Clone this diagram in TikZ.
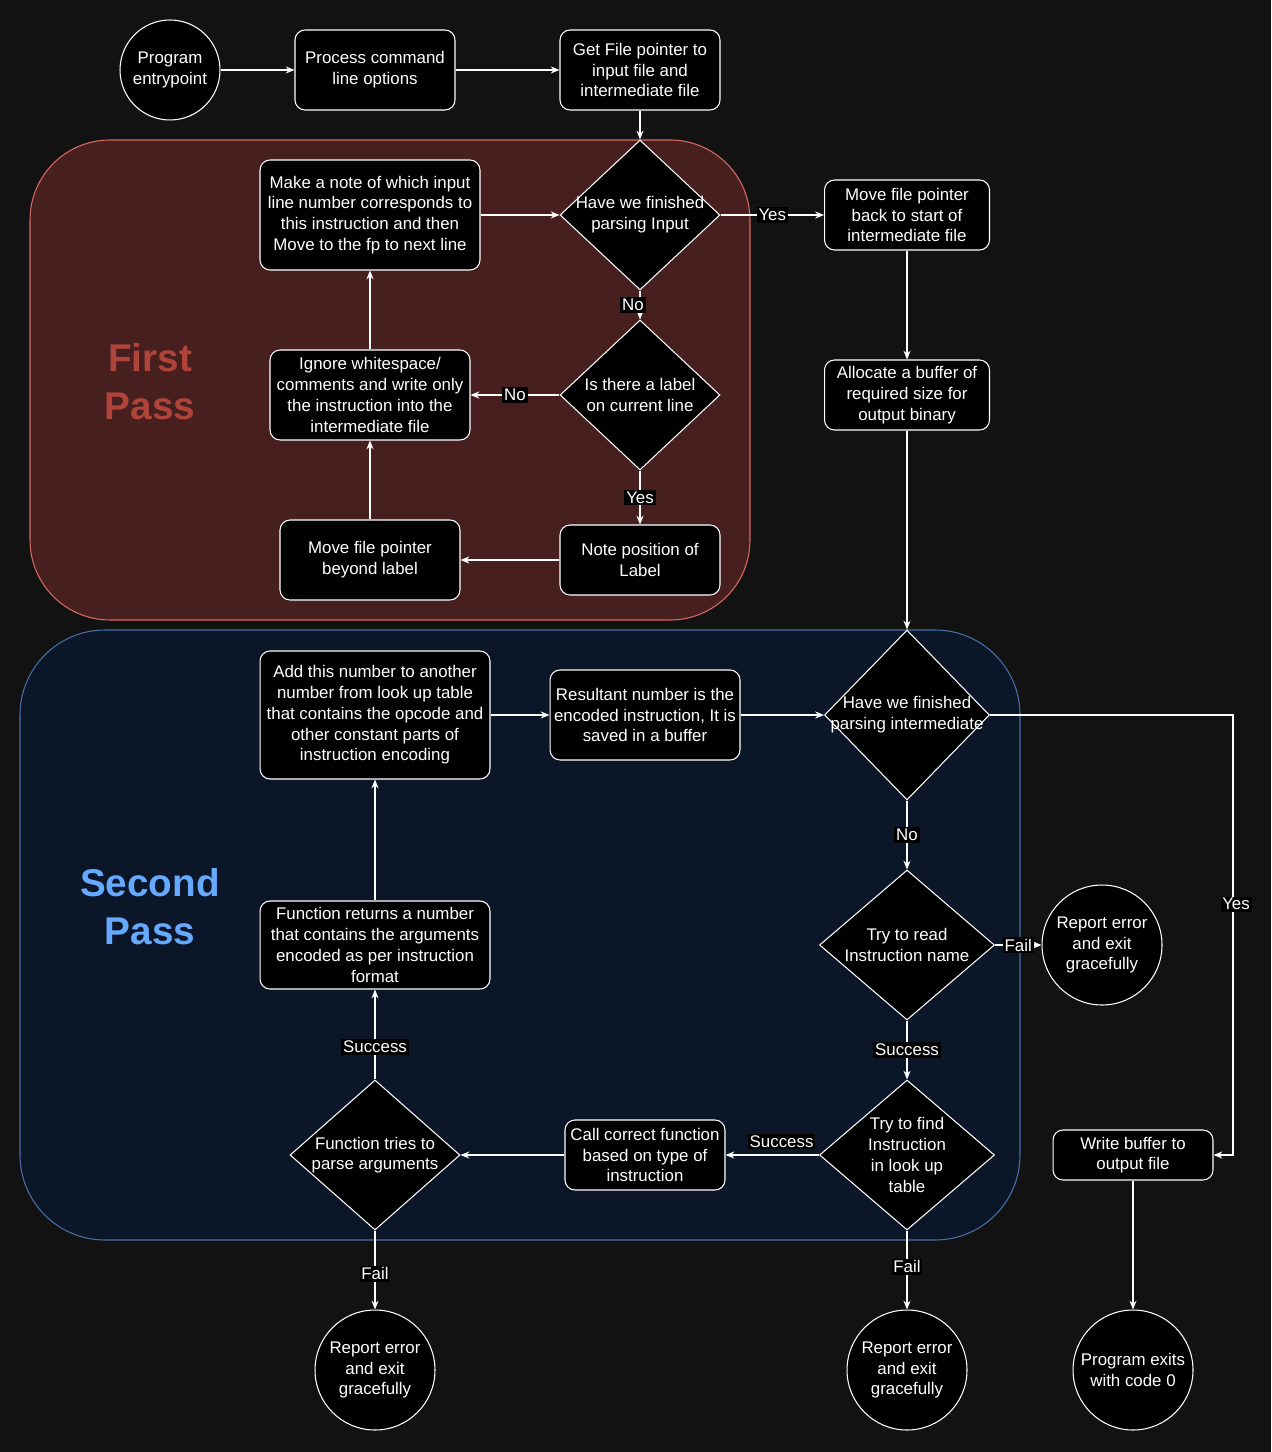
\documentclass[tikz,border=0pt]{standalone}
\usepackage{fontspec}
\setmainfont{Liberation Sans}
\usetikzlibrary{arrows.meta,shapes.geometric}
\definecolor{bgcol}{HTML}{121212}
\definecolor{firstfill}{HTML}{481F1F}
\definecolor{firstline}{HTML}{D86A64}
\definecolor{firsttext}{HTML}{B0443A}
\definecolor{secondfill}{HTML}{0B1729}
\definecolor{secondline}{HTML}{4A6FA5}
\definecolor{secondtext}{HTML}{66AAFF}
\newcommand{\boxfont}{\fontsize{9.6}{11.8}\selectfont}
\newcommand{\passfont}{\fontsize{22}{27.3}\selectfont\bfseries}
\tikzset{
	box/.style={draw=white, fill=black, text=white, rounded corners=0.2cm, align=center, font=\boxfont, inner sep=1pt, line width=0.6pt},
	term/.style={circle, draw=white, fill=black, text=white, align=center, font=\boxfont, inner sep=0pt, line width=0.6pt},
	decision/.style={diamond, draw=white, fill=black, inner sep=0pt, line width=0.6pt},
	dtext/.style={text=white, align=center, font=\boxfont, inner sep=0pt},
	lbl/.style={fill=black, text=white, font=\boxfont, inner sep=1pt},
	arr/.style={draw=white, line width=0.6pt, -{Stealth[length=5pt,width=4pt]}}
}

\begin{document}
\begin{tikzpicture}[x=0.02cm, y=-0.02cm]
		%%%%% START %%%%%
		
		\useasboundingbox (0, 0) rectangle (1271, 1452);
		\fill[bgcol] (0, 0) rectangle (1271, 1452);
		
		\draw[line width=0.6pt, color=firstline, fill=firstfill, rounded corners=1.6cm] (30, 140) rectangle (750, 620);
		\draw[line width=0.6pt, color=secondline, fill=secondfill, rounded corners=1.7cm] (20, 630) rectangle (1020, 1240);
		
		\node[text=firsttext, font=\passfont, align=center] (firstpass) at (150, 382) {First\\Pass};
		\node[text=secondtext, font=\passfont, align=center] (secondpass) at (150, 907) {Second\\Pass};
		
		\node[term, minimum size=2cm] (entry) at (170, 70) {Program\\entrypoint};
		\node[box, minimum width=3.2cm, minimum height=1.6cm] (proc) at (375, 70) {Process command\\line options};
		\node[box, minimum width=3.2cm, minimum height=1.6cm] (getfp) at (640, 70) {Get File pointer to\\input file and\\intermediate file};
		
		\node[decision, minimum width=3.2cm, minimum height=3cm, label={[dtext]center:{Have we finished\\parsing Input}}] (finone) at (640, 215) {};
		\node[box, minimum width=4.4cm, minimum height=2.2cm] (note) at (370, 215) {Make a note of which input\\line number corresponds to\\this instruction and then\\Move to the fp to next line};
		\node[box, minimum width=3.3cm, minimum height=1.4cm] (back) at (907, 215) {Move file pointer\\back to start of\\intermediate file};
		\node[box, minimum width=3.3cm, minimum height=1.4cm] (alloc) at (907, 395) {Allocate a buffer of\\required size for\\output binary};
		\node[decision, minimum width=3.2cm, minimum height=3cm, label={[dtext]center:{Is there a label\\on current line}}] (islabel) at (640, 395) {};
		\node[box, minimum width=4cm, minimum height=1.8cm] (ignore) at (370, 395) {Ignore whitespace/\\comments and write only\\the instruction into the\\intermediate file};
		\node[box, minimum width=3.2cm, minimum height=1.4cm] (labpos) at (640, 560) {Note position of\\Label};
		\node[box, minimum width=3.6cm, minimum height=1.6cm] (beyond) at (370, 560) {Move file pointer\\beyond label};
		
		\node[decision, minimum width=3.3cm, minimum height=3.4cm, label={[dtext]center:{Have we finished\\parsing intermediate}}] (fintwo) at (907, 715) {};
		\node[box, minimum width=4.6cm, minimum height=2.56cm] (addnum) at (375, 715) {Add this number to another\\number from look up table\\that contains the opcode and\\other constant parts of\\instruction encoding};
		\node[box, minimum width=3.8cm, minimum height=1.8cm] (result) at (645, 715) {Resultant number is the\\encoded instruction, It is\\saved in a buffer};
		\node[decision, minimum width=3.5cm, minimum height=3cm, label={[dtext]center:{Try to read\\Instruction name}}] (readins) at (907, 945) {};
		\node[term, minimum size=2.4cm] (errone) at (1102, 945) {Report error\\and exit\\gracefully};
		\node[box, minimum width=4.6cm, minimum height=1.76cm] (funret) at (375, 945) {Function returns a number\\that contains the arguments\\encoded as per instruction\\format};
		\node[decision, minimum width=3.5cm, minimum height=3cm, label={[dtext]center:{Try to find\\Instruction\\in look up\\table}}] (findins) at (907, 1155) {};
		\node[box, minimum width=3.2cm, minimum height=1.4cm] (call) at (645, 1155) {Call correct function\\based on type of\\instruction};
		\node[decision, minimum width=3.4cm, minimum height=3cm, label={[dtext]center:{Function tries to\\parse arguments}}] (parseargs) at (375, 1155) {};
		\node[box, minimum width=3.2cm, minimum height=1cm] (write) at (1133, 1155) {Write buffer to\\output file};
		
		\node[term, minimum size=2.4cm] (errtwo) at (375, 1370) {Report error\\and exit\\gracefully};
		\node[term, minimum size=2.4cm] (errthree) at (907, 1370) {Report error\\and exit\\gracefully};
		\node[term, minimum size=2.4cm] (done) at (1133, 1370) {Program exits\\with code 0};
		\coordinate (turn) at (1233, 715);
		
		\draw[arr] (entry) -- (proc);
		\draw[arr] (proc) -- (getfp);
		\draw[arr] (getfp) -- (finone);
		\draw[arr] (finone) -- node[lbl]{Yes} (back);
		\draw[arr] (finone) -- node[lbl, xshift=-0.14cm]{No} (islabel);
		\draw[arr] (islabel) -- node[lbl]{No} (ignore);
		\draw[arr] (islabel) -- node[lbl]{Yes} (labpos);
		\draw[arr] (labpos) -- (beyond);
		\draw[arr] (beyond) -- (ignore);
		\draw[arr] (ignore) -- (note);
		\draw[arr] (note) -- (finone);
		\draw[arr] (back) -- (alloc);
		\draw[arr] (alloc) -- (fintwo);
		
		\draw[arr] (fintwo.east) -- (turn) |- node[lbl, pos=0.215, xshift=0.06cm]{Yes} (write.east);
		\draw[arr] (fintwo) -- node[lbl]{No} (readins);
		\draw[arr] (readins) -- node[lbl]{Fail} (errone);
		\draw[arr] (readins) -- node[lbl]{Success} (findins);
		\draw[arr] (findins) -- node[lbl, above=0.1cm, pos=0.4]{Success} (call);
		\draw[arr] (findins) -- node[lbl, pos=0.46]{Fail} (errthree);
		\draw[arr] (call) -- (parseargs);
		\draw[arr] (parseargs) -- node[lbl, pos=0.36]{Success} (funret);
		\draw[arr] (parseargs) -- node[lbl, pos=0.55]{Fail} (errtwo);
		\draw[arr] (funret) -- (addnum);
		\draw[arr] (addnum) -- (result);
		\draw[arr] (result) -- (fintwo);
		\draw[arr] (write) -- (done);
		
		%%%%% END %%%%%
	\end{tikzpicture}
\end{document}
